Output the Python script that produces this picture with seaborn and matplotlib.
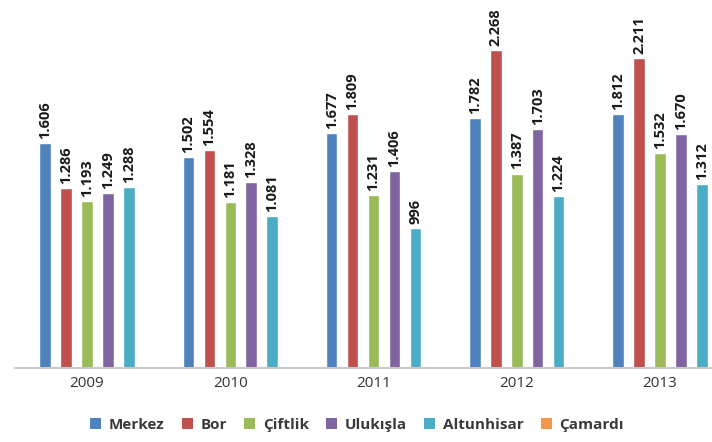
import numpy as np
import pandas as pd
import matplotlib
matplotlib.use("Agg")
import matplotlib.pyplot as plt
from matplotlib.patches import Patch
import seaborn as sns

# Data
years = ["2009", "2010", "2011", "2012", "2013"]
merkez = [1606, 1502, 1677, 1782, 1812]
bor = [1286, 1554, 1809, 2268, 2211]
ciftlik = [1193, 1181, 1231, 1387, 1532]
ulukisla = [1249, 1328, 1406, 1703, 1670]
altunhisar = [1288, 1081, 996, 1224, 1312]
# Çamardı appears only in the legend (no bars drawn)

districts = ["Merkez", "Bor", "Çiftlik", "Ulukışla", "Altunhisar", "Çamardı"]
colors = ["#4F81BD", "#C0504D", "#9BBB59", "#8064A2", "#4BACC6", "#F79646"]

series = [merkez, bor, ciftlik, ulukisla, altunhisar]
rows = []
for name, vals in zip(districts[:5], series):
    for yr, v in zip(years, vals):
        rows.append({"year": yr, "district": name, "value": v})
df = pd.DataFrame(rows)

sns.set_style("white")
plt.rcParams["font.family"] = ["Open Sans", "DejaVu Sans"]

fig = plt.figure(figsize=(7.12, 4.42), dpi=100)
ax = fig.add_axes([15 / 712, 74 / 442, 697 / 712, 368 / 442])

sns.barplot(data=df, x="year", y="value", hue="district",
            hue_order=districts[:5], palette=colors[:5],
            width=0.73, gap=0.45, legend=False, ax=ax, saturation=1)


def fmt(v):
    return f"{v:,}".replace(",", ".")


for cont, vals in zip(ax.containers, series):
    ax.bar_label(cont, labels=[fmt(v) for v in vals], rotation=90, padding=3,
                 fontsize=10.5, fontweight="bold", color="#1a1a1a")

ax.set_ylim(0, 2625)
ax.set_xlim(-0.503, 4.363)
ax.set_xlabel("")
ax.set_ylabel("")
ax.set_yticks([])
ax.tick_params(axis="x", length=0, pad=6, labelsize=11, labelcolor="#333333")
for s in ["top", "right", "left"]:
    ax.spines[s].set_visible(False)
ax.spines["bottom"].set_color("#C8C8C8")
ax.spines["bottom"].set_linewidth(1.5)

handles = [Patch(facecolor=c, edgecolor="none", label=d) for d, c in zip(districts, colors)]
fig.legend(handles=handles, loc="center", bbox_to_anchor=(357 / 712, 17 / 442),
           ncol=6, frameon=False, handlelength=0.75, handleheight=0.75,
           handletextpad=0.5, columnspacing=1.1,
           prop={"size": 11, "weight": "bold"}, labelcolor="#3a3a3a")

fig.savefig("out.png", dpi=100)
